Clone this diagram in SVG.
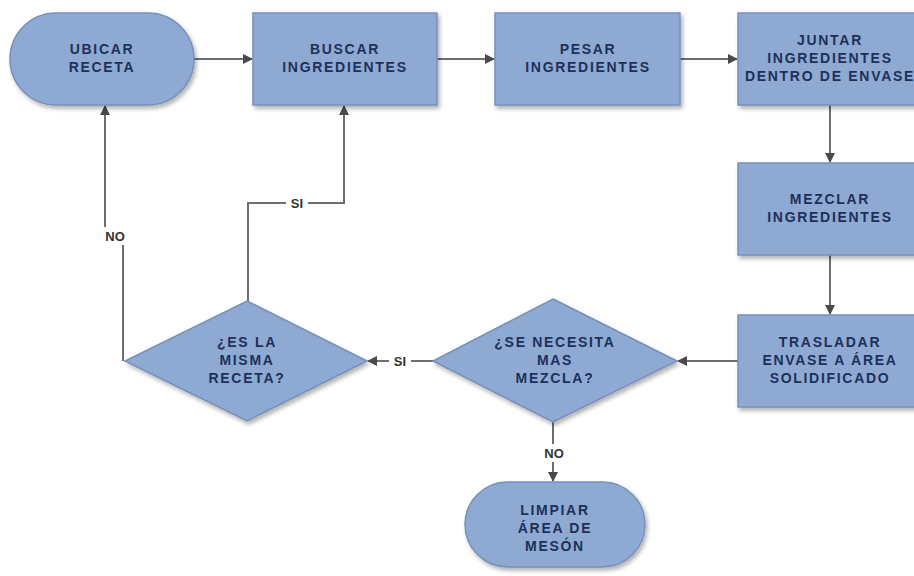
<svg xmlns="http://www.w3.org/2000/svg" width="914" height="576" viewBox="0 0 914 576">
  <defs>
    <filter id="shadow" x="-10%" y="-10%" width="130%" height="140%">
      <feDropShadow dx="2" dy="3" stdDeviation="2" flood-color="#000" flood-opacity="0.3"/>
    </filter>
    <marker id="arrow" viewBox="0 0 10 10" refX="9" refY="5" markerWidth="10" markerHeight="10" markerUnits="userSpaceOnUse" orient="auto">
      <path d="M0,0 L10,5 L0,10 z" fill="#4a4a4a"/>
    </marker>
  </defs>
  <style>
    .shape { fill: #8eaad3; stroke: #7590b9; stroke-width: 1.5; filter: url(#shadow); }
    .label { font-family: "Liberation Sans", Arial, sans-serif; font-size: 14px; font-weight: bold; letter-spacing: 1.7px; fill: #1c305a; text-anchor: middle; }
    .conn { fill: none; stroke: #6e6e6e; stroke-width: 2; }
    .arrowed { marker-end: url(#arrow); }
    .clabel { font-family: "Liberation Sans", Arial, sans-serif; font-size: 13px; font-weight: bold; fill: #333; text-anchor: middle; }
    .bg { fill: #ffffff; }
  </style>
  <rect width="914" height="576" fill="#ffffff"/>

  <g id="connectors">
    <path class="conn arrowed" d="M194,59 H252"/>
    <path class="conn arrowed" d="M437,59 H494"/>
    <path class="conn arrowed" d="M680,59 H737"/>
    <path class="conn arrowed" d="M830,105 V162"/>
    <path class="conn arrowed" d="M830,255 V314"/>
    <path class="conn arrowed" d="M738,361 H678"/>
    <path class="conn arrowed" d="M433,361 H368"/>
    <path class="conn arrowed" d="M248,302 V203 H344 V106"/>
    <path class="conn arrowed" d="M123,361 V237 H105 V106"/>
    <path class="conn arrowed" d="M553,422 V481"/>
    <!-- connector labels -->
    <rect class="bg" x="101" y="227" width="28" height="18"/>
    <text class="clabel" x="115" y="241">NO</text>
    <rect class="bg" x="286" y="194" width="22" height="18"/>
    <text class="clabel" x="297" y="208">SI</text>
    <rect class="bg" x="389" y="352" width="22" height="18"/>
    <text class="clabel" x="400" y="366">SI</text>
    <rect class="bg" x="540" y="444" width="28" height="18"/>
    <text class="clabel" x="554" y="458">NO</text>
  </g>

  <g id="ubicar-receta">
    <rect class="shape" x="10" y="13" width="184" height="92" rx="46"/>
    <text class="label" x="102" y="54">UBICAR</text>
    <text class="label" x="102" y="72">RECETA</text>
  </g>

  <g id="buscar-ingredientes">
    <rect class="shape" x="253" y="13" width="184" height="92"/>
    <text class="label" x="345" y="54">BUSCAR</text>
    <text class="label" x="345" y="72">INGREDIENTES</text>
  </g>

  <g id="pesar-ingredientes">
    <rect class="shape" x="495" y="13" width="185" height="92"/>
    <text class="label" x="588" y="54">PESAR</text>
    <text class="label" x="588" y="72">INGREDIENTES</text>
  </g>

  <g id="juntar-ingredientes">
    <rect class="shape" x="738" y="13" width="184" height="92"/>
    <text class="label" x="830" y="45">JUNTAR</text>
    <text class="label" x="830" y="63">INGREDIENTES</text>
    <text class="label" x="830" y="81">DENTRO DE ENVASE</text>
  </g>

  <g id="mezclar-ingredientes">
    <rect class="shape" x="738" y="163" width="184" height="92"/>
    <text class="label" x="830" y="204">MEZCLAR</text>
    <text class="label" x="830" y="222">INGREDIENTES</text>
  </g>

  <g id="trasladar-envase">
    <rect class="shape" x="738" y="315" width="184" height="92"/>
    <text class="label" x="830" y="347">TRASLADAR</text>
    <text class="label" x="830" y="365">ENVASE A ÁREA</text>
    <text class="label" x="830" y="383">SOLIDIFICADO</text>
  </g>

  <g id="se-necesita-mas-mezcla">
    <polygon class="shape" points="553,299 677,361 553,422 433,361"/>
    <text class="label" x="555" y="347">¿SE NECESITA</text>
    <text class="label" x="555" y="365">MAS</text>
    <text class="label" x="555" y="383">MEZCLA?</text>
  </g>

  <g id="es-la-misma-receta">
    <polygon class="shape" points="247,301 367,361 247,421 125,361"/>
    <text class="label" x="247" y="347">¿ES LA</text>
    <text class="label" x="247" y="365">MISMA</text>
    <text class="label" x="247" y="383">RECETA?</text>
  </g>

  <g id="limpiar-area">
    <rect class="shape" x="465" y="482" width="180" height="85" rx="42.5"/>
    <text class="label" x="555" y="515">LIMPIAR</text>
    <text class="label" x="555" y="533">ÁREA DE</text>
    <text class="label" x="555" y="551">MESÓN</text>
  </g>
</svg>
